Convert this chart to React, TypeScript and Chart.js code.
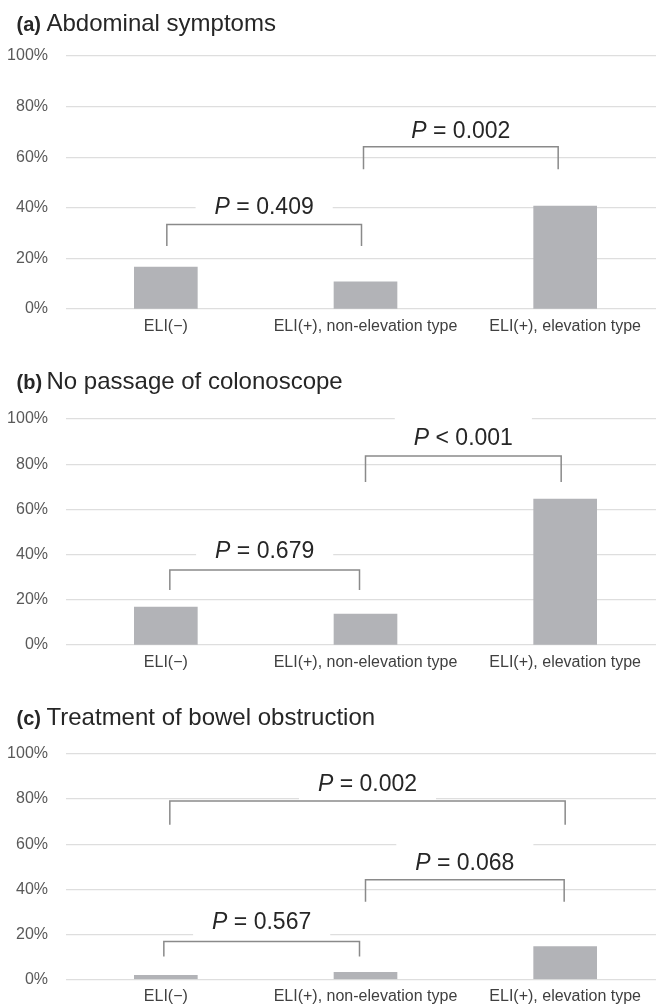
import React, { useEffect, useRef } from "react";
import { Chart, registerables } from "chart.js";

Chart.register(...registerables);

// ---------- data ----------
const categories = ["ELI(−)", "ELI(+), non-elevation type", "ELI(+), elevation type"];
const abdominalValues = [16.6, 10.7, 40.7];
const noPassageValues = [16.8, 13.7, 64.6];
const treatmentValues = [1.8, 3.1, 14.6];
const yTickValues = [0, 20, 40, 60, 80, 100];

const panelLetters = ["(a)", "(b)", "(c)"];
const panelTitles = ["Abdominal symptoms", "No passage of colonoscope", "Treatment of bowel obstruction"];

const pLabelsA = ["= 0.409", "= 0.002"];
const pLabelsB = ["= 0.679", "< 0.001"];
const pLabelsC = ["= 0.002", "= 0.068", "= 0.567"];

// ---------- annotation geometry (category index / value units) ----------
type Bracket = { from: number; to: number; top: number; bottom: number; textY: number; label: string };

const bracketsA: Bracket[] = [
  { from: 0.005, to: 0.98, top: 33.4, bottom: 24.9, textY: 40.8, label: pLabelsA[0] },
  { from: 0.99, to: 1.965, top: 64.1, bottom: 55.2, textY: 71.0, label: pLabelsA[1] },
];
const bracketsB: Bracket[] = [
  { from: 0.02, to: 0.97, top: 33.2, bottom: 24.3, textY: 42.0, label: pLabelsB[0] },
  { from: 1.0, to: 1.98, top: 83.6, bottom: 72.1, textY: 92.3, label: pLabelsB[1] },
];
const bracketsC: Bracket[] = [
  { from: 0.02, to: 2.0, top: 79.2, bottom: 68.6, textY: 87.4, label: pLabelsC[0] },
  { from: 1.0, to: 1.995, top: 44.2, bottom: 34.5, textY: 52.0, label: pLabelsC[1] },
  { from: -0.01, to: 0.97, top: 16.8, bottom: 10.2, textY: 26.2, label: pLabelsC[2] },
];

const FONT = "'Liberation Sans', Arial, Helvetica, sans-serif";
const CANVAS_W = 665;

type PanelProps = {
  top: number;
  height: number;
  padTop: number;
  axisHeight: number;
  titleBaseline: number;
  letter: string;
  title: string;
  values: number[];
  brackets: Bracket[];
};

function Panel(props: PanelProps) {
  const ref = useRef<HTMLCanvasElement | null>(null);

  useEffect(() => {
    const canvas = ref.current;
    if (!canvas) return;
    const { letter, title, brackets, titleBaseline } = props;

    const annot = {
      id: "annot",
      afterDatasetsDraw(chart: any) {
        const ctx = chart.ctx as CanvasRenderingContext2D;
        const xs = chart.scales.x;
        const ys = chart.scales.y;
        ctx.save();
        // title
        ctx.fillStyle = "#262626";
        ctx.textBaseline = "alphabetic";
        ctx.textAlign = "left";
        ctx.font = `bold 20px ${FONT}`;
        ctx.fillText(letter, 16.5, titleBaseline);
        ctx.font = `24px ${FONT}`;
        ctx.fillText(title, 46.5, titleBaseline);

        for (const b of brackets) {
          const x1 = xs.getPixelForValue(b.from);
          const x2 = xs.getPixelForValue(b.to);
          const yt = ys.getPixelForValue(b.top);
          const yb = ys.getPixelForValue(b.bottom);
          const ty = ys.getPixelForValue(b.textY);
          const cx = (x1 + x2) / 2;
          ctx.font = `italic 23px ${FONT}`;
          const wP = ctx.measureText("P").width;
          ctx.font = `23px ${FONT}`;
          const rest = " " + b.label;
          const wR = ctx.measureText(rest).width;
          const w = wP + wR;
          // white box behind text
          ctx.fillStyle = "#ffffff";
          ctx.fillRect(cx - w / 2 - 19, ty - 20, w + 38, 40);
          // bracket
          ctx.strokeStyle = "#8a8a8a";
          ctx.lineWidth = 1.5;
          ctx.beginPath();
          ctx.moveTo(x1, yb);
          ctx.lineTo(x1, yt);
          ctx.lineTo(x2, yt);
          ctx.lineTo(x2, yb);
          ctx.stroke();
          // text
          ctx.fillStyle = "#262626";
          ctx.textBaseline = "alphabetic";
          ctx.textAlign = "left";
          const base = ty + 8.2;
          ctx.font = `italic 23px ${FONT}`;
          ctx.fillText("P", cx - w / 2, base);
          ctx.font = `23px ${FONT}`;
          ctx.fillText(rest, cx - w / 2 + wP, base);
        }
        ctx.restore();
      },
    };

    const chart = new Chart(canvas, {
      type: "bar",
      data: {
        labels: categories,
        datasets: [
          {
            data: props.values,
            backgroundColor: "#b2b3b7",
            borderWidth: 0,
            barThickness: 63,
          },
        ],
      },
      options: {
        responsive: false,
        animation: false,
        devicePixelRatio: 1,
        layout: { padding: { top: props.padTop, left: 0, right: 0, bottom: 0 } },
        plugins: {
          legend: { display: false },
          title: { display: false },
          tooltip: { enabled: false },
        },
        scales: {
          x: {
            type: "category",
            grid: { display: false, drawTicks: false },
            border: { display: false },
            ticks: {
              color: "#404040",
              font: { family: FONT, size: 16 },
              padding: 8,
              maxRotation: 0,
              autoSkip: false,
            },
            afterFit: (s: any) => {
              s.height = props.axisHeight;
            },
          },
          y: {
            min: 0,
            max: 100,
            grid: { color: "#dedede", lineWidth: 1.2, drawTicks: false },
            border: { display: false },
            ticks: {
              color: "#595959",
              font: { family: FONT, size: 16 },
              padding: 18,
              callback: (v: any) => `${v}%`,
            },
            afterBuildTicks: (s: any) => {
              s.ticks = yTickValues.map((v) => ({ value: v }));
            },
            afterFit: (s: any) => {
              s.width = 66;
            },
          },
        },
      },
      plugins: [annot],
    } as any);

    return () => chart.destroy();
  }, []);

  return (
    <div style={{ position: "absolute", left: 0, top: props.top, width: CANVAS_W, height: props.height }}>
      <canvas
        ref={ref}
        width={CANVAS_W}
        height={props.height}
        style={{ width: CANVAS_W, height: props.height, display: "block" }}
      />
    </div>
  );
}

export default function App() {
  return (
    <div
      style={{
        position: "absolute",
        left: 0,
        top: 0,
        width: 656,
        height: 1007,
        overflow: "hidden",
        background: "#ffffff",
      }}
    >
      <Panel
        top={0}
        height={345}
        padTop={56}
        axisHeight={36}
        titleBaseline={31}
        letter={panelLetters[0]}
        title={panelTitles[0]}
        values={abdominalValues}
        brackets={bracketsA}
      />
      <Panel
        top={345}
        height={335}
        padTop={74}
        axisHeight={35}
        titleBaseline={44}
        letter={panelLetters[1]}
        title={panelTitles[1]}
        values={noPassageValues}
        brackets={bracketsB}
      />
      <Panel
        top={680}
        height={327}
        padTop={74}
        axisHeight={27}
        titleBaseline={45}
        letter={panelLetters[2]}
        title={panelTitles[2]}
        values={treatmentValues}
        brackets={bracketsC}
      />
    </div>
  );
}
